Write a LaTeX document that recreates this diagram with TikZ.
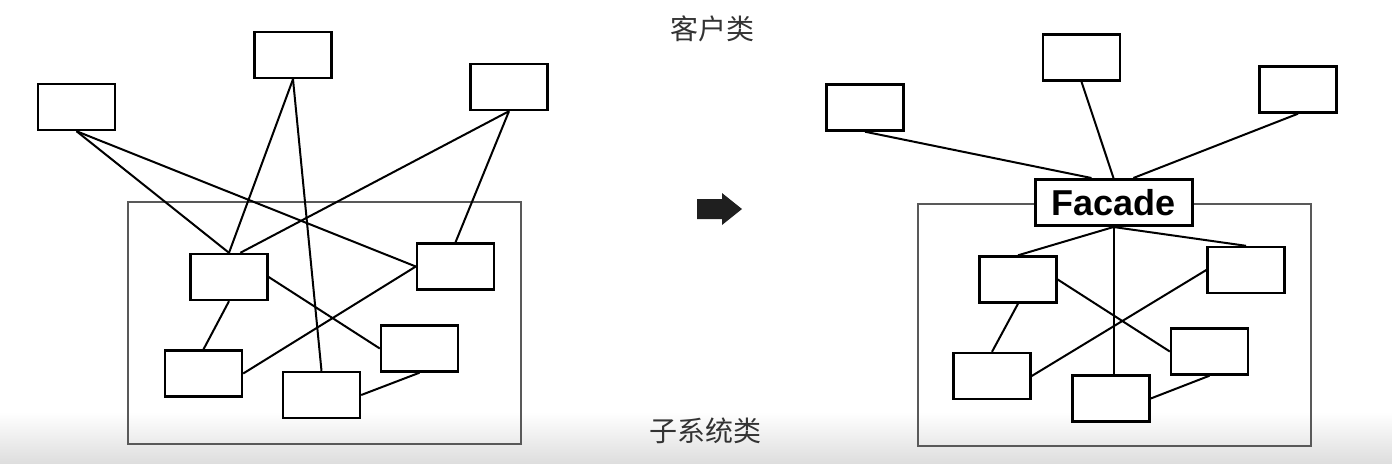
\documentclass[tikz,border=0pt]{standalone}
\usepackage{fontspec}
\setmainfont{Liberation Sans}
\newfontfamily\cjk{Noto Sans CJK SC}
\usetikzlibrary{positioning,backgrounds}

\tikzset{
  box/.style={draw, line width=1.2pt, fill=white, minimum width=38.5pt, minimum height=23pt, inner sep=0pt},
  link/.style={line width=1pt},
  subsys/.style={draw=black!65, line width=1.3pt},
  lbl/.style={text=black!80, font=\cjk\fontsize{14}{16}\selectfont}
}

\begin{document}
\begin{tikzpicture}[x=0.5pt,y=-0.5pt]
\useasboundingbox (0,0) rectangle (1392,463);

% grey band at the bottom
\fill[top color=white, bottom color=black!13] (0,412) rectangle (1392,463);

\node[lbl] (cl) at (712,29) {客户类};
\node[lbl] (ss) at (705,431) {子系统类};

% left: without facade
\draw[subsys] (128,202) rectangle (521,444);
\foreach \n/\x/\y in {c1/76.5/107, c2/293/55, c3/509/87,
  s1/229/277, s2/455.5/266.5, s3/419.5/348.5, s4/203.5/373.5, s5/321.5/395}
  \node[box] (\n) at (\x,\y) {};

\draw[link] (c1.south) -- (s1.north);
\draw[link] (c1.south) -- (s2.west);
\draw[link] (c2.south) -- (s1.north);
\draw[link] (c2.south) -- (s5.north);
\draw[link] (c3.south) -- (s1.65);
\draw[link] (c3.south) -- (s2.north);
\draw[link] (s1.south) -- (s4.north);
\draw[link] (s1.east) -- (s3.west);
\draw[link] (s2.west) -- (s4.east);
\draw[link] (s3.south) -- (s5.east);

% arrow
\fill[black!88] (697,199) -- (722,199) -- (722,193) -- (742,209) -- (722,225) -- (722,219) -- (697,219) -- cycle;

% right: with facade
\draw[subsys] (918,204) rectangle (1311,446);
\foreach \n/\x/\y in {rc1/865/107.5, rc2/1081.5/57.5, rc3/1298/89.5,
  rs1/1018/279.5, rs2/1246/270, rs3/1209.5/351.5, rs4/992/376, rs5/1111/398.5}
  \node[box] (\n) at (\x,\y) {};
\node[box, line width=1.5pt, minimum width=78.5pt, font=\bfseries\fontsize{18}{20}\selectfont] (fa) at (1113.5,202.5) {Facade};

\draw[link] (rc1.south) -- (fa.132);
\draw[link] (rc2.south) -- (fa.north);
\draw[link] (rc3.south) -- (fa.51);
\draw[link] (fa.south) -- (rs1.north);
\draw[link] (fa.south) -- (rs2.north);
\draw[link] (fa.south) -- (fa.south |- rs5.north);
\draw[link] (rs1.south) -- (rs4.north);
\draw[link] (rs1.east) -- (rs3.west);
\draw[link] (rs2.west) -- (rs4.east);
\draw[link] (rs3.south) -- (rs5.east);

\end{tikzpicture}
\end{document}
